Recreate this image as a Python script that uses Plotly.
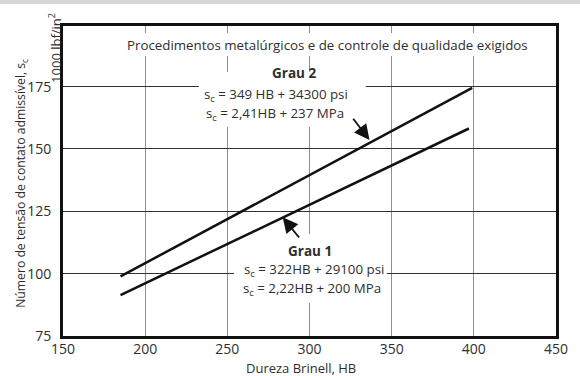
import plotly.graph_objects as go

# Data
hb_grau2 = [185, 399]
sc_grau2 = [98.9, 174.5]
hb_grau1 = [185, 397]
sc_grau1 = [91.4, 158.2]

x_ticks = [150, 200, 250, 300, 350, 400, 450]
y_ticks = [75, 100, 125, 150, 175]

FONT = "Open Sans"
TXT = "#2e2e2e"

fig = go.Figure()
fig.add_trace(go.Scatter(x=hb_grau2, y=sc_grau2, mode="lines",
                         line=dict(color="#111111", width=2.5), showlegend=False))
fig.add_trace(go.Scatter(x=hb_grau1, y=sc_grau1, mode="lines",
                         line=dict(color="#111111", width=2.5), showlegend=False))

shapes = [
    dict(type="rect", xref="x", yref="y", x0=184, x1=438, y0=187.3, y1=196.5,
         fillcolor="white", line=dict(width=0), layer="between"),
    dict(type="rect", xref="x", yref="y", x0=232.6, x1=334.2, y0=158.8, y1=180.9,
         fillcolor="white", line=dict(width=0), layer="between"),
    dict(type="rect", xref="x", yref="y", x0=254, x1=347, y0=88.2, y1=115.9,
         fillcolor="white", line=dict(width=0), layer="between"),
    dict(type="rect", xref="paper", yref="paper", x0=-0.2, x1=1.1, y0=1.071, y1=1.09,
         fillcolor="#d6d6d6", line=dict(width=0), layer="above"),
]

ann = []
def txt(x, y, s, size=13.3, weight=None):
    f = dict(family=FONT, size=size, color=TXT)
    if weight:
        f["weight"] = weight
    ann.append(dict(x=x, y=y, xref="x", yref="y", text=s, showarrow=False,
                    font=f, xanchor="center", yanchor="middle"))

txt(311, 191.7, "Procedimentos metalúrgicos e de controle de qualidade exigidos", 13.3)
txt(290.8, 180.4, "Grau 2", 13.5, "bold")
txt(279.5, 171.6, "s<sub>c</sub> = 349 HB + 34300 psi", 13.3)
txt(278.8, 164.2, "s<sub>c</sub> = 2,41HB + 237 MPa", 13.3)
txt(300.3, 109.1, "Grau 1", 13.5, "bold")
txt(303.0, 101.3, "s<sub>c</sub> = 322HB + 29100 psi", 13.3)
txt(301.5, 94.0, "s<sub>c</sub> = 2,22HB + 200 MPa", 13.3)

for (hx, hy, tx, ty) in [(336.5, 153.6, 325.9, 162.7), (283.7, 122.6, 294.4, 113.9)]:
    ann.append(dict(x=hx, y=hy, ax=tx, ay=ty, xref="x", yref="y", axref="x", ayref="y",
                    text="", showarrow=True, arrowhead=2, arrowsize=1.7, arrowwidth=1.8,
                    arrowcolor="#111111", standoff=0))

ann.append(dict(x=0.483, y=-0.103, xref="paper", yref="paper",
                text="Dureza Brinell, HB", showarrow=False,
                font=dict(family=FONT, size=13, color=TXT),
                xanchor="center", yanchor="middle"))
ann.append(dict(x=-0.0832, y=0.494, xref="paper", yref="paper",
                text="Número de tensão de contato admissível, s<sub>c</sub>", showarrow=False,
                textangle=-90, font=dict(family=FONT, size=12.2, color=TXT),
                xanchor="center", yanchor="middle"))
ann.append(dict(x=-0.0158, y=0.93, xref="paper", yref="paper",
                text="1000 lbf/in<sup>2</sup>", showarrow=False,
                textangle=-90, font=dict(family=FONT, size=13, color=TXT),
                xanchor="center", yanchor="middle"))

fig.update_layout(
    width=580, height=376,
    margin=dict(l=63, r=12, t=26, b=40),
    paper_bgcolor="white", plot_bgcolor="white",
    shapes=shapes, annotations=ann,
    font=dict(family=FONT, color=TXT),
)
fig.update_xaxes(range=[150, 450], tickvals=x_ticks, ticktext=[str(v) for v in x_ticks],
                 showgrid=True, gridcolor="#8f8f8f", gridwidth=1.3,
                 showline=True, linecolor="#111111", linewidth=3, mirror=True,
                 ticks="", tickfont=dict(family=FONT, size=14, color=TXT),
                 ticklabelstandoff=-2, zeroline=False)
fig.update_yaxes(range=[75, 199.3], tickvals=y_ticks, ticktext=[str(v) for v in y_ticks],
                 showgrid=True, gridcolor="#333333", gridwidth=1,
                 showline=True, linecolor="#111111", linewidth=3, mirror=True,
                 ticks="", tickfont=dict(family=FONT, size=14, color=TXT),
                 ticklabelstandoff=6, zeroline=False)

fig.write_html("out.html")
